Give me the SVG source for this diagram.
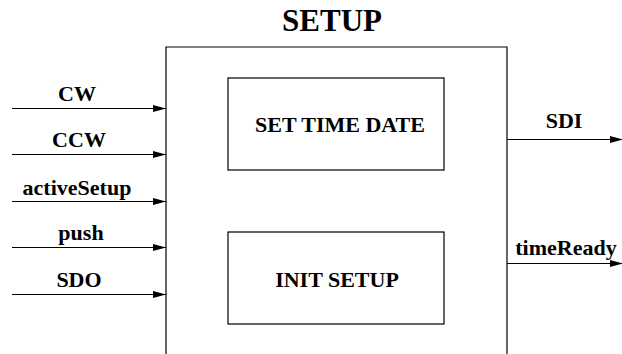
<svg xmlns="http://www.w3.org/2000/svg" width="622" height="354" viewBox="0 0 622 354">
  <style>
    .box { fill: #fff; stroke: #000; stroke-width: 1.2; }
    .wire { fill: none; stroke: #000; stroke-width: 1.2; }
    .lbl { font-family: "Liberation Serif", "Times New Roman", serif; font-weight: bold; font-size: 22px; fill: #000; text-anchor: middle; }
    .title { font-size: 31px; }
  </style>
  <defs>
    <marker id="arrow" markerUnits="userSpaceOnUse" markerWidth="14" markerHeight="8" refX="13" refY="3.5" orient="auto">
      <path d="M0,0 L13,3.5 L0,7 Z" fill="#000"/>
    </marker>
  </defs>

  <rect width="622" height="354" fill="#fff"/>

  <!-- outer SETUP block (open at the bottom) -->
  <g id="setup">
    <path class="wire" d="M166,354 V47 H507 V354"/>
    <text class="lbl title" x="332" y="31">SETUP</text>
  </g>

  <g id="set-time-date">
    <rect class="box" x="228" y="78" width="216" height="92"/>
    <text class="lbl" x="340" y="132">SET TIME DATE</text>
  </g>

  <g id="init-setup">
    <rect class="box" x="228" y="232" width="216" height="92"/>
    <text class="lbl" x="337" y="287">INIT SETUP</text>
  </g>

  <!-- signals -->
  <g id="connectors">
    <line class="wire" x1="12" y1="108.5" x2="166" y2="108.5" marker-end="url(#arrow)"/>
    <line class="wire" x1="12" y1="154.5" x2="166" y2="154.5" marker-end="url(#arrow)"/>
    <line class="wire" x1="12" y1="201.5" x2="166" y2="201.5" marker-end="url(#arrow)"/>
    <line class="wire" x1="12" y1="247.5" x2="166" y2="247.5" marker-end="url(#arrow)"/>
    <line class="wire" x1="12" y1="294.5" x2="166" y2="294.5" marker-end="url(#arrow)"/>
    <line class="wire" x1="507" y1="139.5" x2="623" y2="139.5" marker-end="url(#arrow)"/>
    <line class="wire" x1="507" y1="263.5" x2="623" y2="263.5" marker-end="url(#arrow)"/>
  </g>

  <g id="signal-labels">
    <text class="lbl" x="77" y="101">CW</text>
    <text class="lbl" x="79" y="147">CCW</text>
    <text class="lbl" x="77" y="195">activeSetup</text>
    <text class="lbl" x="81" y="240">push</text>
    <text class="lbl" x="79" y="287">SDO</text>
    <text class="lbl" x="564" y="128">SDI</text>
    <text class="lbl" x="566" y="255">timeReady</text>
  </g>
</svg>
